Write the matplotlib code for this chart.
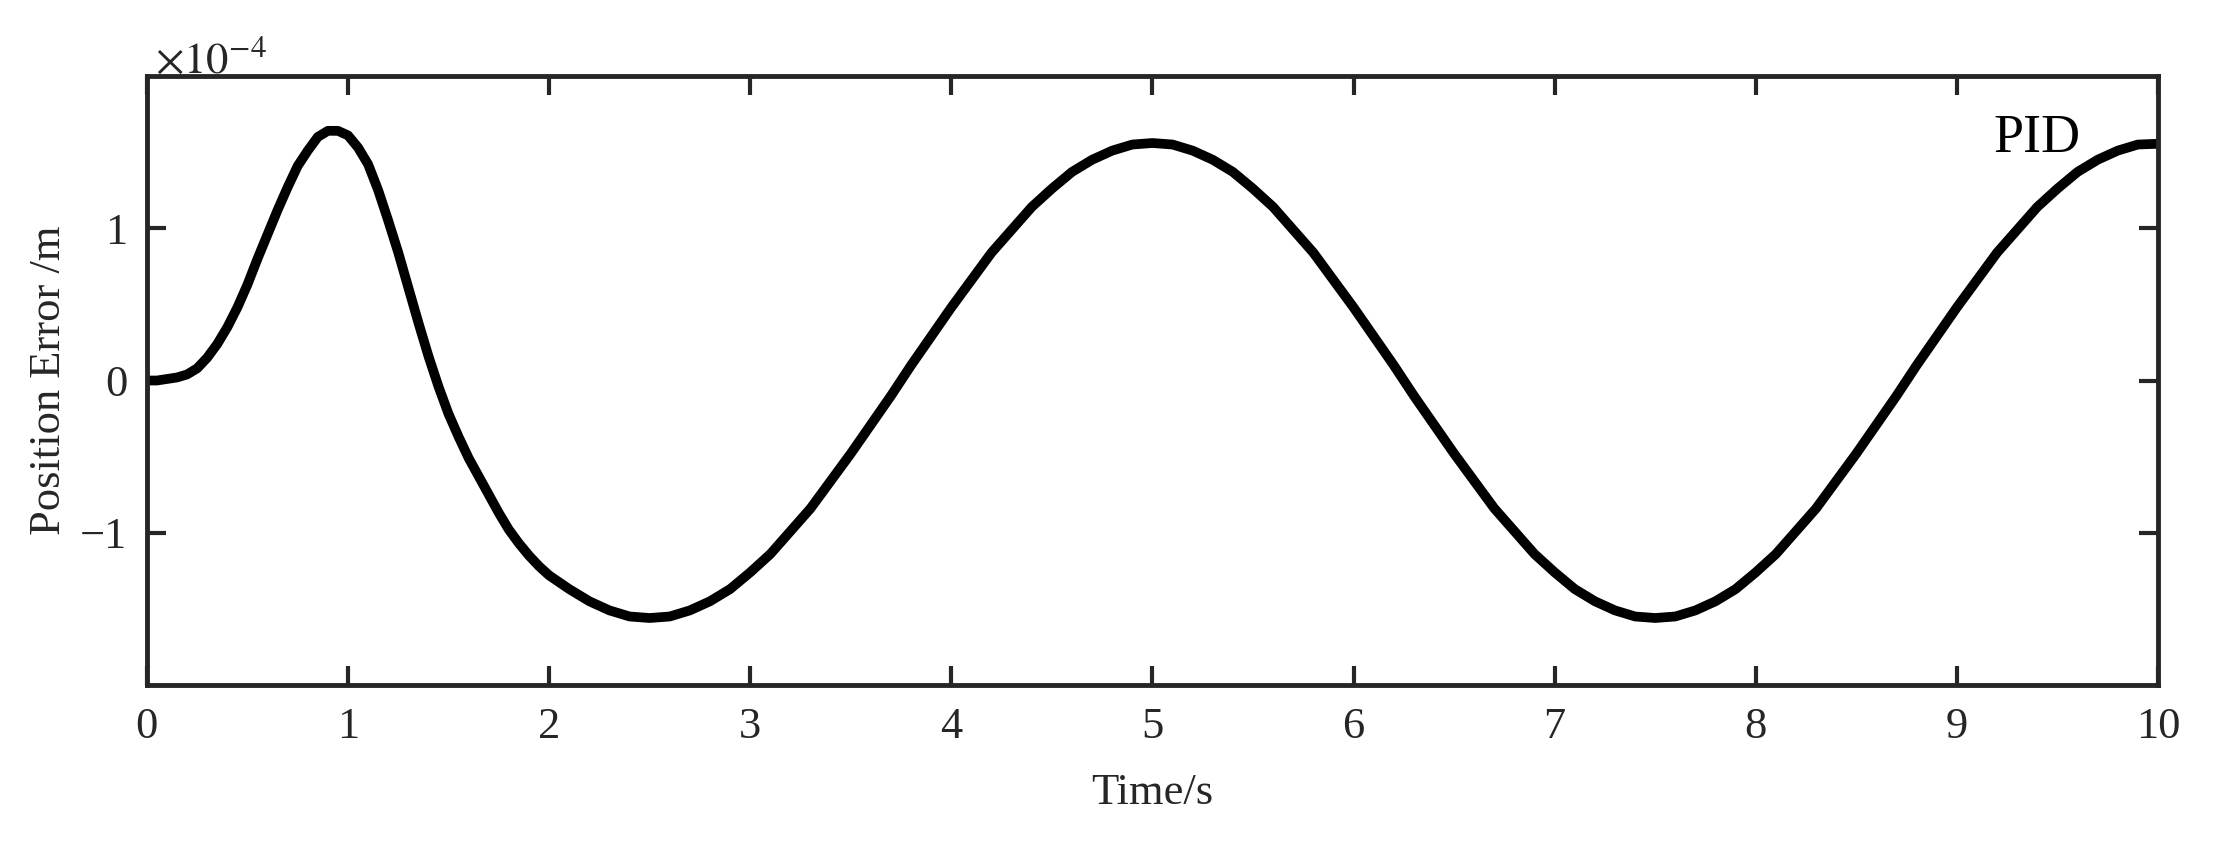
import matplotlib
matplotlib.use("Agg")
import matplotlib.pyplot as plt

# position error, in units of 1e-4 m
# first 2 s (transient) sampled every 0.05 s
time_early = [0.00, 0.05, 0.10, 0.15, 0.20, 0.25, 0.30, 0.35, 0.40, 0.45,
              0.50, 0.55, 0.60, 0.65, 0.70, 0.75, 0.80, 0.85, 0.90, 0.95,
              1.00, 1.05, 1.10, 1.15, 1.20, 1.25, 1.30, 1.35, 1.40, 1.45,
              1.50, 1.55, 1.60, 1.65, 1.70, 1.75, 1.80, 1.85, 1.90, 1.95, 2.00]
err_early = [0.00, 0.00, 0.01, 0.02, 0.04, 0.08, 0.15, 0.24, 0.35, 0.48,
             0.63, 0.80, 0.96, 1.12, 1.27, 1.41, 1.51, 1.60, 1.64, 1.64,
             1.61, 1.53, 1.42, 1.25, 1.05, 0.84, 0.61, 0.38, 0.16, -0.04,
             -0.22, -0.37, -0.51, -0.63, -0.75, -0.87, -0.98, -1.07, -1.15, -1.22, -1.28]

# rest of the run sampled every 0.1 s
time_late = [2.1, 2.2, 2.3, 2.4, 2.5, 2.6, 2.7, 2.8, 2.9, 3.0,
             3.1, 3.2, 3.3, 3.4, 3.5, 3.6, 3.7, 3.8, 3.9, 4.0,
             4.1, 4.2, 4.3, 4.4, 4.5, 4.6, 4.7, 4.8, 4.9, 5.0,
             5.1, 5.2, 5.3, 5.4, 5.5, 5.6, 5.7, 5.8, 5.9, 6.0,
             6.1, 6.2, 6.3, 6.4, 6.5, 6.6, 6.7, 6.8, 6.9, 7.0,
             7.1, 7.2, 7.3, 7.4, 7.5, 7.6, 7.7, 7.8, 7.9, 8.0,
             8.1, 8.2, 8.3, 8.4, 8.5, 8.6, 8.7, 8.8, 8.9, 9.0,
             9.1, 9.2, 9.3, 9.4, 9.5, 9.6, 9.7, 9.8, 9.9, 10.0]
err_late = [-1.37, -1.45, -1.51, -1.55, -1.56, -1.55, -1.51, -1.45, -1.37, -1.26,
            -1.14, -0.99, -0.84, -0.66, -0.48, -0.29, -0.10, 0.10, 0.29, 0.48,
            0.66, 0.84, 0.99, 1.14, 1.26, 1.37, 1.45, 1.51, 1.55, 1.56,
            1.55, 1.51, 1.45, 1.37, 1.26, 1.14, 0.99, 0.84, 0.66, 0.48,
            0.29, 0.10, -0.10, -0.29, -0.48, -0.66, -0.84, -0.99, -1.14, -1.26,
            -1.37, -1.45, -1.51, -1.55, -1.56, -1.55, -1.51, -1.45, -1.37, -1.26,
            -1.14, -0.99, -0.84, -0.66, -0.48, -0.29, -0.10, 0.10, 0.29, 0.48,
            0.66, 0.84, 0.99, 1.14, 1.26, 1.37, 1.45, 1.51, 1.55, 1.555]

x_ticks = list(range(0, 11))
y_ticks = [-1, 0, 1]
y_ticklabels = ["\u22121", "0", "1"]

plt.rcParams["font.family"] = ["Liberation Serif", "DejaVu Serif"]
plt.rcParams["mathtext.fontset"] = "stix"

dark = "#262626"
fig = plt.figure(figsize=(22.19, 8.41), dpi=100)
ax = fig.add_axes([0.0662, 0.1855, 0.9063, 0.7241])

ax.plot(time_early + time_late, err_early + err_late, color="black",
        linewidth=7, solid_capstyle="round", solid_joinstyle="round")

ax.set_xlim(0, 10)
ax.set_ylim(-2, 2)
ax.set_xticks(x_ticks)
ax.set_yticks(y_ticks)
ax.set_yticklabels(y_ticklabels)

for s in ax.spines.values():
    s.set_linewidth(3.5)
    s.set_color(dark)
ax.tick_params(direction="in", top=True, right=True, length=14, width=3,
               color=dark, labelsize=32, labelcolor=dark)
ax.tick_params(axis="x", pad=16)
ax.tick_params(axis="y", pad=14)

ax.set_xlabel("Time/s", fontsize=32, color=dark)
ax.set_ylabel("Position Error /m", fontsize=32, color=dark)
ax.xaxis.set_label_coords(0.5, -0.144)
ax.yaxis.set_label_coords(-0.0385, 0.5)

ax.text(0.004, 1.005, r"$\times10^{-4}$", transform=ax.transAxes,
        fontsize=32, color=dark, va="baseline", ha="left")
ax.text(9.18, 1.50, "PID", fontsize=39, color="black", va="baseline", ha="left")

fig.savefig("out.png", dpi=100)
